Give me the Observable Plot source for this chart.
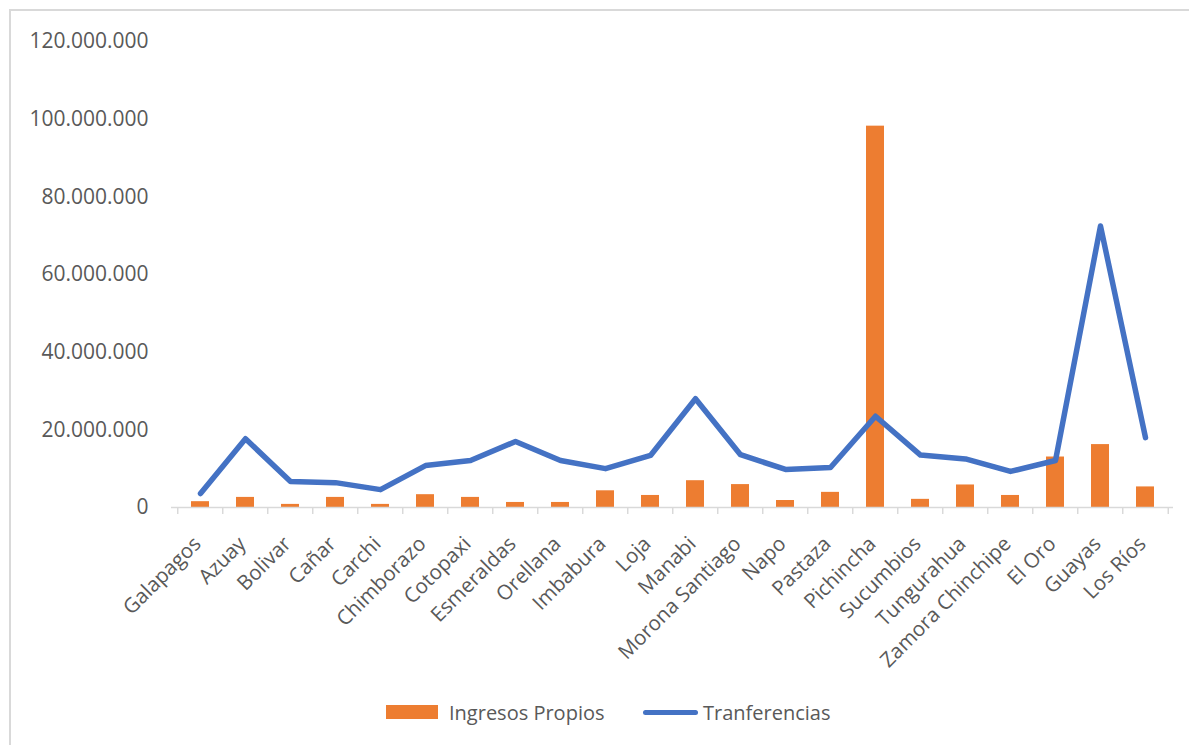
<!DOCTYPE html>
<html>
<head>
<meta charset="utf-8">
<script src="https://cdn.jsdelivr.net/npm/d3@7"></script>
<script src="https://cdn.jsdelivr.net/npm/@observablehq/plot@0.6"></script>
<style>
  html, body { margin: 0; padding: 0; background: #fff; }
  #chart { position: relative; width: 1189px; height: 745px; overflow: hidden; font-family: "Open Sans", sans-serif; }
  #frame { position: absolute; left: 9px; top: 9px; width: 1300px; height: 900px;
           border-left: 2px solid #d9d9d9; border-top: 2px solid #d9d9d9; box-sizing: border-box; }
  #plot { position: absolute; left: 0; top: 0; }
  #legend { position: absolute; top: 698px; left: 0; width: 1189px; height: 28px; color: #595959; font-size: 20px; }
  .item { position: absolute; top: 0; height: 28px; display: flex; align-items: center; }
  .swatch-bar { width: 52px; height: 14px; background: #ED7D31; margin-right: 11px; }
  .swatch-line { width: 55px; height: 5px; border-radius: 3px; background: #4472C4; margin-right: 5px; }
</style>
</head>
<body>
<div id="chart">
  <div id="frame"></div>
  <div id="plot"></div>
  <div id="legend">
    <div class="item" style="left:386px"><span class="swatch-bar"></span><span>Ingresos Propios</span></div>
    <div class="item" style="left:643px"><span class="swatch-line"></span><span>Tranferencias</span></div>
  </div>
</div>
<script>
// Provinces of Ecuador
const provincias = [
  "Galapagos", "Azuay", "Bolivar", "Cañar", "Carchi", "Chimborazo", "Cotopaxi",
  "Esmeraldas", "Orellana", "Imbabura", "Loja", "Manabi", "Morona Santiago", "Napo",
  "Pastaza", "Pichincha", "Sucumbios", "Tungurahua", "Zamora Chinchipe", "El Oro",
  "Guayas", "Los Ríos"
];
// Own revenue (bars)
const ingresosPropios = [
  1500000, 2600000, 800000, 2600000, 800000, 3300000, 2600000,
  1300000, 1300000, 4300000, 3100000, 6900000, 5900000, 1800000,
  3900000, 98200000, 2100000, 5800000, 3100000, 13000000,
  16200000, 5300000
];
// Transfers (line)
const transferencias = [
  3600000, 17700000, 6700000, 6400000, 4600000, 10800000, 12100000,
  17000000, 12100000, 10000000, 13400000, 28000000, 13600000, 9800000,
  10300000, 23500000, 13500000, 12500000, 9300000, 12100000,
  72500000, 18000000
];
const yTicks = [0, 20000000, 40000000, 60000000, 80000000, 100000000, 120000000];

const data = provincias.map((p, i) => ({provincia: p, propios: ingresosPropios[i], transf: transferencias[i]}));

const W = 1189, H = 690, ML = 171, MR = 16, MT = 41, MB = 183;
const step = (W - ML - MR) / provincias.length;
const fmt = v => d3.format(",")(v).replace(/,/g, ".");
const grey = "#595959";

const chart = Plot.plot({
  width: W,
  height: H,
  marginLeft: ML,
  marginRight: MR,
  marginTop: MT,
  marginBottom: MB,
  style: {fontFamily: "Open Sans, sans-serif", color: grey, background: "transparent", overflow: "visible"},
  x: {domain: provincias, paddingInner: 0.6, paddingOuter: 0.3, label: null},
  y: {domain: [0, 120000000], label: null},
  marks: [
    Plot.barY(data, {x: "provincia", y: "propios", fill: "#ED7D31"}),
    Plot.ruleY([0], {stroke: "#d9d9d9", strokeWidth: 1.5}),
    // category boundary ticks below the axis
    Plot.ruleX(data, {x: "provincia", y1: 0, y2: 0, insetBottom: -7, dx: -step / 2, stroke: "#d9d9d9", strokeWidth: 1.5}),
    Plot.ruleX(data.slice(-1), {x: "provincia", y1: 0, y2: 0, insetBottom: -7, dx: step / 2, stroke: "#d9d9d9", strokeWidth: 1.5}),
    Plot.line(data, {x: "provincia", y: "transf", stroke: "#4472C4", strokeWidth: 5.5, strokeLinejoin: "round", strokeLinecap: "round"}),
    Plot.axisY({ticks: yTicks, tickFormat: fmt, tickSize: 0, tickPadding: 23, fontSize: 21, fill: grey, label: null}),
    Plot.axisX({tickRotate: -45, tickSize: 0, tickPadding: 25, dx: -3, dy: 8, fontSize: 20.5, fill: grey, label: null})
  ]
});
document.getElementById("plot").appendChild(chart);
</script>
</body>
</html>
